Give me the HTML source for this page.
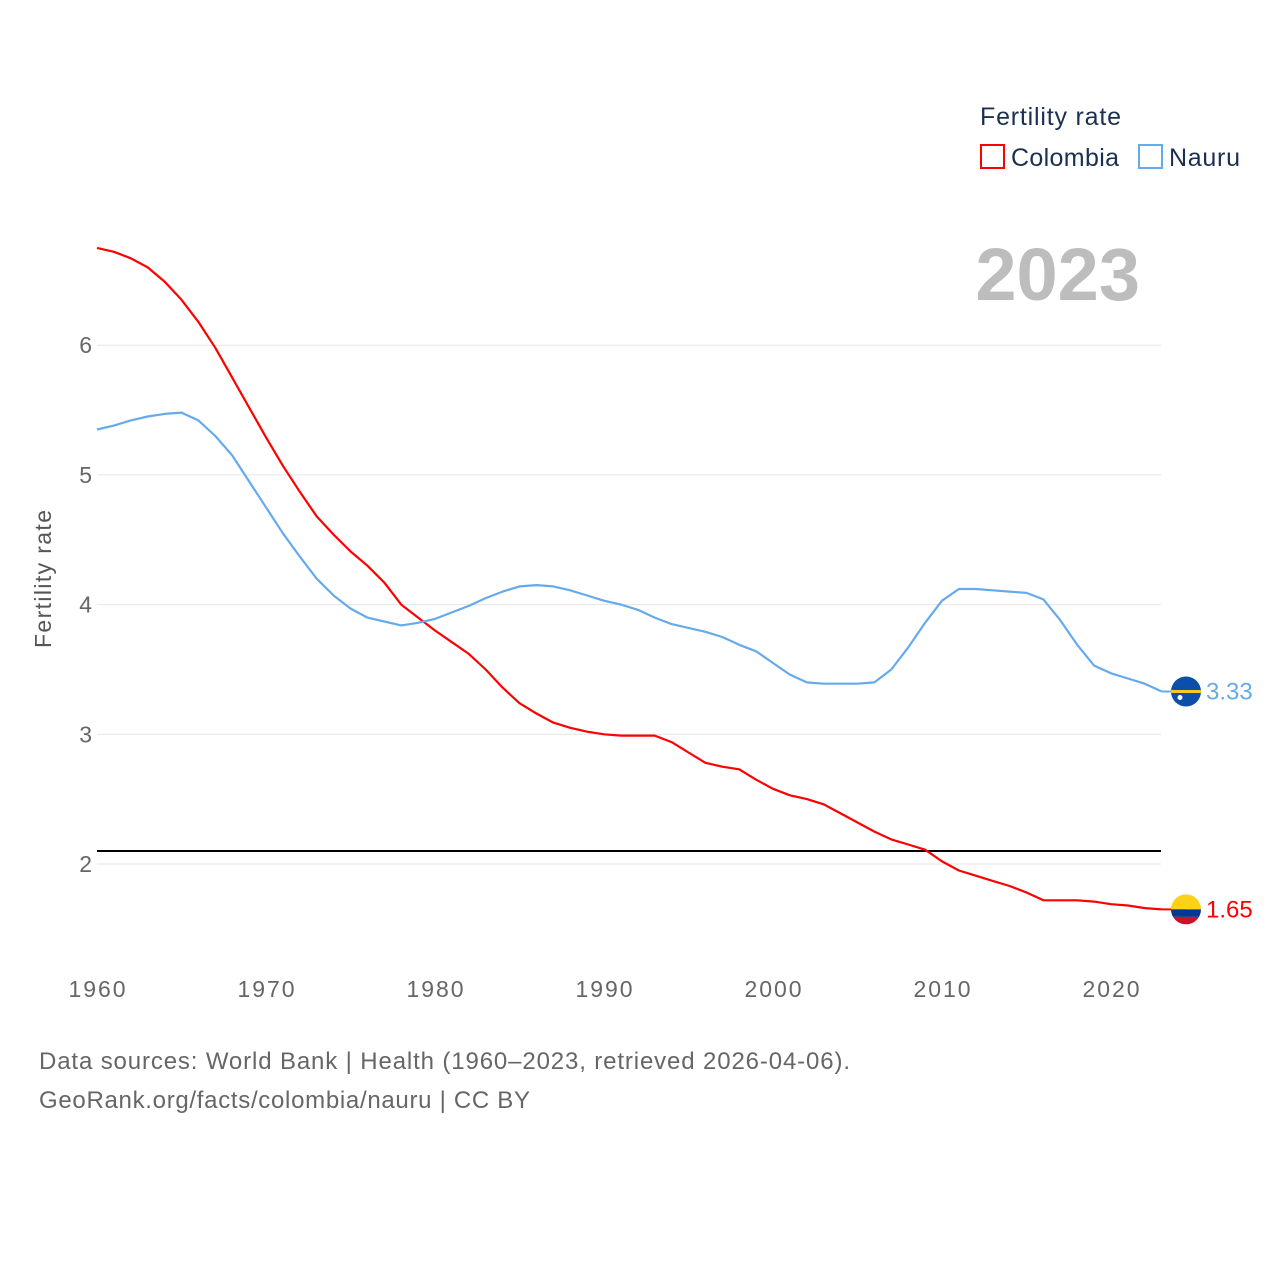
<!DOCTYPE html>
<html><head><meta charset="utf-8">
<style>
body{margin:0;background:#fff;width:1280px;height:1280px;overflow:hidden;font-family:"Liberation Sans",sans-serif;}
svg{display:block}
</style></head>
<body>
<svg id="chart" width="1280" height="1280" xmlns="http://www.w3.org/2000/svg">
<text x="980" y="125" font-size="25" fill="#1a3050" textLength="141">Fertility rate</text>
<g>
<rect x="981" y="145" width="23" height="23" fill="none" stroke="#ff0000" stroke-width="2"/>
<text x="1011" y="166" font-size="25" fill="#1a3050" textLength="108">Colombia</text></g>
<g>
<rect x="1139" y="145" width="23" height="23" fill="none" stroke="#66aaee" stroke-width="2"/>
<text x="1169" y="166" font-size="25" fill="#1a3050" textLength="71">Nauru</text></g>
<text x="1140" y="300" font-size="74" font-weight="bold" fill="#bdbdbd" text-anchor="end">2023</text>
<text transform="translate(51,579) rotate(-90)" font-size="23" fill="#555" text-anchor="middle" textLength="138">Fertility rate</text>
<g id="grid"></g><g id="xt"></g><g id="series"></g>
<text x="39" y="1069" font-size="24" fill="#666" textLength="811">Data sources: World Bank | Health (1960–2023, retrieved 2026-04-06).</text>
<text x="39" y="1108" font-size="24" fill="#666" textLength="491">GeoRank.org/facts/colombia/nauru | CC BY</text>
</svg>
<script>
const years=[];for(let y=1960;y<=2023;y++)years.push(y);
const colombia=[6.75,6.72,6.67,6.60,6.49,6.35,6.18,5.98,5.75,5.52,5.29,5.07,4.87,4.68,4.54,4.41,4.30,4.17,4.00,3.90,3.80,3.71,3.62,3.50,3.36,3.24,3.16,3.09,3.05,3.02,3.00,2.99,2.99,2.99,2.94,2.86,2.78,2.75,2.73,2.65,2.58,2.53,2.50,2.46,2.39,2.32,2.25,2.19,2.15,2.11,2.02,1.95,1.91,1.87,1.83,1.78,1.72,1.72,1.72,1.71,1.69,1.68,1.66,1.65];
const nauru=[5.35,5.38,5.42,5.45,5.47,5.48,5.42,5.30,5.15,4.95,4.75,4.55,4.37,4.20,4.07,3.97,3.90,3.87,3.84,3.86,3.89,3.94,3.99,4.05,4.10,4.14,4.15,4.14,4.11,4.07,4.03,4.00,3.96,3.90,3.85,3.82,3.79,3.75,3.69,3.64,3.55,3.46,3.40,3.39,3.39,3.39,3.40,3.50,3.67,3.86,4.03,4.12,4.12,4.11,4.10,4.09,4.04,3.88,3.69,3.53,3.47,3.43,3.39,3.33];
const yTicks=[2,3,4,5,6];
const xTicks=[1960,1970,1980,1990,2000,2010,2020];
const replacement=2.1;
const X=y=>97+(y-1960)*16.9;
const Y=v=>864-(v-2)*129.7;
const NS="http://www.w3.org/2000/svg";
function mk(t,a,p){const e=document.createElementNS(NS,t);for(const k in a)e.setAttribute(k,a[k]);p.appendChild(e);return e;}
const grid=document.getElementById('grid'),xt=document.getElementById('xt'),ser=document.getElementById('series');
yTicks.forEach(v=>{
 const l=mk('line',{x1:97,x2:1161,y1:Y(v),y2:Y(v),stroke:'#e6e6e6','stroke-width':1},grid);
 
 
 const t=mk('text',{x:92,y:Y(v)+8,'font-size':23,fill:'#666','text-anchor':'end'},grid);t.textContent=v;
 
 
});
xTicks.forEach(v=>{
 const t=mk('text',{x:X(v),y:997,'font-size':23,fill:'#666','text-anchor':'middle',textLength:57},xt);t.textContent=v;
 
 
});
const rl=mk('line',{x1:97,x2:1161,y1:Y(replacement),y2:Y(replacement),stroke:'#000','stroke-width':2},ser);


function series(vals,col,name){
 const p=mk('path',{d:vals.map((v,i)=>(i?'L':'M')+X(years[i]).toFixed(1)+','+Y(v).toFixed(1)).join(''),fill:'none',stroke:col,'stroke-width':2.2,'stroke-linejoin':'round'},ser);
 
 
 const last=vals[vals.length-1],ly=Y(last);
 mk('line',{x1:X(2023),x2:1186,y1:ly,y2:ly,stroke:col,'stroke-width':2},ser);
 return [ly,last];
}
const [cy,cv]=series(colombia,'#ff0000','colombia');
const [ny,nv]=series(nauru,'#66aaee','nauru');
const defs=mk('defs',{},ser);
const cp1=mk('clipPath',{id:'cf'},defs);mk('circle',{cx:1186,cy:cy,r:15},cp1);
const cp2=mk('clipPath',{id:'nf'},defs);mk('circle',{cx:1186,cy:ny,r:15},cp2);
const fc=mk('g',{'clip-path':'url(#cf)'},ser);


mk('rect',{x:1171,y:cy-15,width:30,height:15,fill:'#fcd116'},fc);
mk('rect',{x:1171,y:cy,width:30,height:7.5,fill:'#003893'},fc);
mk('rect',{x:1171,y:cy+7.5,width:30,height:7.5,fill:'#ce1126'},fc);
const fn=mk('g',{'clip-path':'url(#nf)'},ser);


mk('rect',{x:1171,y:ny-15,width:30,height:30,fill:'#0b4fa8'},fn);
mk('rect',{x:1171,y:ny-1.5,width:30,height:3,fill:'#ffc61e'},fn);
mk('circle',{cx:1180,cy:ny+6,r:2.5,fill:'#fff'},fn);
const t1=mk('text',{x:1206,y:cy+8,'font-size':24,fill:'#ff0000'},ser);t1.textContent=cv.toFixed(2);


const t2=mk('text',{x:1206,y:ny+8,'font-size':24,fill:'#66aaee'},ser);t2.textContent=nv.toFixed(2);


</script>
</body></html>
